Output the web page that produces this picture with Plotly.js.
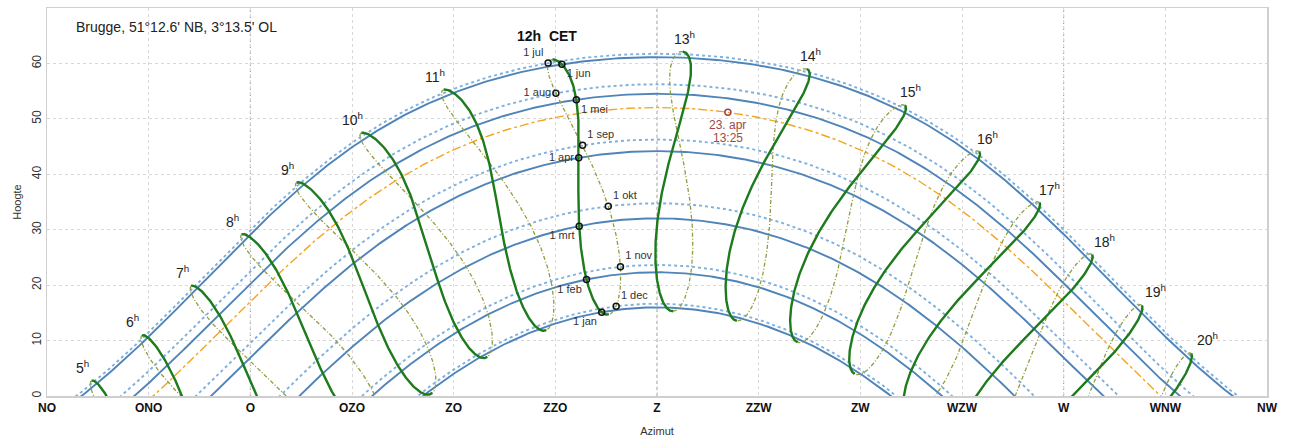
<!DOCTYPE html>
<html><head><meta charset="utf-8">
<script src="https://cdn.plot.ly/plotly-3.0.1.min.js"></script>
<style>html,body{margin:0;padding:0;background:#fff}#chart{width:1290px;height:437px}</style>
</head><body><div id="chart"></div>
<script>
// ---- data ----
const latitude = 51.21;      // 51°12.6' NB
const longitude = 3.225;     // 3°13.5' OL
const utcOffset = 1;         // CET
const compassTicks = [45, 67.5, 90, 112.5, 135, 157.5, 180, 202.5, 225, 247.5, 270, 292.5, 315];
const compassLabels = ['NO','ONO','O','OZO','ZO','ZZO','Z','ZZW','ZW','WZW','W','WNW','NW'];
const altTicks = [0, 10, 20, 30, 40, 50, 60];
const hours = [5,6,7,8,9,10,11,12,13,14,15,16,17,18,19,20];
const monthNames = ['1 jan','1 feb','1 mrt','1 apr','1 mei','1 jun','1 jul','1 aug','1 sep','1 okt','1 nov','1 dec'];
const monthDoy = [1,32,60,91,121,152,182,213,244,274,305,335];
const ephemerisShiftDays = 3;    // offset
const specialDoy = 113;          // 23 april
const specialTime = 13 + 25/60;  // 13:25 CET
const specialLines = ['23. apr','13:25'];
const solsticeSummer = 172, solsticeWinter = 355;

// ---- solar geometry ----
const rad = Math.PI/180, deg = 180/Math.PI;
function sunParams(doy, utcHour){
  const g = 2*Math.PI/365*(doy-1+ephemerisShiftDays+(utcHour-12)/24);
  const eot = 229.18*(0.000075+0.001868*Math.cos(g)-0.032077*Math.sin(g)-0.014615*Math.cos(2*g)-0.040849*Math.sin(2*g));
  const decl = 0.006918-0.399912*Math.cos(g)+0.070257*Math.sin(g)-0.006758*Math.cos(2*g)+0.000907*Math.sin(2*g)-0.002697*Math.cos(3*g)+0.00148*Math.sin(3*g);
  return {eot, decl};
}
function altAz(declRad, Hdeg){
  const phi = latitude*rad, H = Hdeg*rad;
  const sa = Math.sin(phi)*Math.sin(declRad)+Math.cos(phi)*Math.cos(declRad)*Math.cos(H);
  const alt = Math.asin(sa)*deg;
  const az = Math.atan2(Math.sin(H), Math.cos(H)*Math.sin(phi)-Math.tan(declRad)*Math.cos(phi))*deg+180;
  return [az, alt];
}
function sunAt(doy, cetHour){
  const utc = cetHour - utcOffset;
  const p = sunParams(doy, utc);
  const ast = utc + longitude/15 + p.eot/60;
  return altAz(p.decl, 15*(ast-12));
}
function dayPath(doy){
  const p = sunParams(doy, 12);
  const xs=[], ys=[];
  for(let H=-180; H<=180; H+=0.5){ const [a,h]=altAz(p.decl,H); xs.push(a); ys.push(h); }
  return {x:xs, y:ys};
}
function analemma(hour, doys){
  const xs=[], ys=[];
  doys.forEach(d=>{ const [a,h]=sunAt(d,hour); xs.push(a); ys.push(h); });
  return {x:xs, y:ys};
}
const sS = solsticeSummer-ephemerisShiftDays, sW = solsticeWinter-ephemerisShiftDays;
const solidDays=[], dotDays=[];
for(let d=sW; d<=365; d++) solidDays.push(d);
for(let d=1; d<=sS; d++) solidDays.push(d);
for(let d=sS; d<=sW; d++) dotDays.push(d);

const traces=[];
monthDoy.forEach((d,i)=>{
  const p = dayPath(d);
  const solid = i<6;
  traces.push({type:'scatter',mode:'lines',x:p.x,y:p.y,hoverinfo:'skip',showlegend:false,
    line: solid?{color:'#4f84ba',width:1.9}:{color:'#7fb0dd',width:1.9,dash:'dot'}});
});
{ const p = dayPath(specialDoy);
  traces.push({type:'scatter',mode:'lines',x:p.x,y:p.y,hoverinfo:'skip',showlegend:false,
    line:{color:'#f4a421',width:1.4,dash:'dashdot'}}); }
const annotations=[];
hours.forEach(h=>{
  const dp = analemma(h, dotDays);
  traces.push({type:'scatter',mode:'lines',x:dp.x,y:dp.y,hoverinfo:'skip',showlegend:false,
    line:{color:'#939c3c',width:1.3,dash:'4px,2px,1px,2px'}});
  const sp = analemma(h, solidDays);
  traces.push({type:'scatter',mode:'lines',x:sp.x,y:sp.y,hoverinfo:'skip',showlegend:false,
    line:{color:'#1d7a1d',width:2.4}});
  const top = sunAt(sS, h);
  if(h===12){
    annotations.push({x:top[0],y:top[1],text:'<b>12h  CET</b>',showarrow:false,xshift:-5,yshift:24,
      font:{size:14,color:'#111'}});
  } else {
    annotations.push({x:top[0],y:top[1],text:h+'<sup>h</sup>',showarrow:false,
      xshift: h<12 ? -9 : Math.min(16, (h-12)*2), yshift:14, font:{size:14,color:'#222'}});
  }
});
const mk = monthDoy.map(d=>sunAt(d,12));
traces.push({type:'scatter',mode:'markers+text',x:mk.map(p=>p[0]),y:mk.map(p=>p[1]),text:monthNames,
  textposition:['bottom left','bottom left','bottom left','middle left','bottom right','bottom right',
                'top left','middle left','top right','top right','top right','top right'],
  textfont:{size:11,color:'#333',family:'Liberation Sans, Arial'},
  marker:{symbol:'circle-open',size:6,color:'#111',line:{width:1.5}},hoverinfo:'skip',showlegend:false});
const sp = sunAt(specialDoy, specialTime);
traces.push({type:'scatter',mode:'markers',x:[sp[0]],y:[sp[1]],
  marker:{symbol:'circle-open',size:6,color:'#a04545',line:{width:1.5}},hoverinfo:'skip',showlegend:false});
specialLines.forEach((t,i)=>annotations.push({x:sp[0],y:sp[1],text:t,showarrow:false,yshift:-13-13*i,
  font:{size:12,color:'#a04848'}}));
annotations.push({xref:'paper',yref:'paper',x:0.022,y:0.978,xanchor:'left',yanchor:'top',
  text:'Brugge, 51°12.6\' NB, 3°13.5\' OL',showarrow:false,font:{size:14,color:'#222'}});

const shapes = [90,180,270].map(v=>({type:'line',xref:'x',yref:'paper',x0:v,x1:v,y0:0,y1:1,
  layer:'below',line:{color:'#999',width:1,dash:'dot'}}));

const layout={
  width:1290,height:437,margin:{l:47,r:23,t:8,b:41},
  paper_bgcolor:'#fff',plot_bgcolor:'#fff',
  font:{family:'Liberation Sans, Arial, sans-serif',color:'#222'},
  showlegend:false,
  xaxis:{range:[45,315],tickvals:compassTicks,ticktext:compassLabels,
    tickfont:{size:12,color:'#111',weight:'bold'},
    showgrid:true,gridcolor:'#d8d8d8',griddash:'dot',zeroline:false,
    showline:true,mirror:true,linecolor:'#cfcfcf',linewidth:1.5,ticks:'',
    title:{text:'Azimut',font:{size:11,color:'#333'},standoff:13}},
  yaxis:{range:[0,70],tickvals:altTicks,ticksuffix:'°',tickangle:-90,
    tickfont:{size:12,color:'#333'},
    showgrid:true,gridcolor:'#d8d8d8',griddash:'dot',zeroline:false,
    showline:true,mirror:true,linecolor:'#cfcfcf',linewidth:1.5,ticks:'',
    title:{text:'Hoogte',font:{size:11,color:'#333'},standoff:6}},
  annotations, shapes
};
Plotly.newPlot('chart',traces,layout,{displayModeBar:false,staticPlot:true});
</script></body></html>
